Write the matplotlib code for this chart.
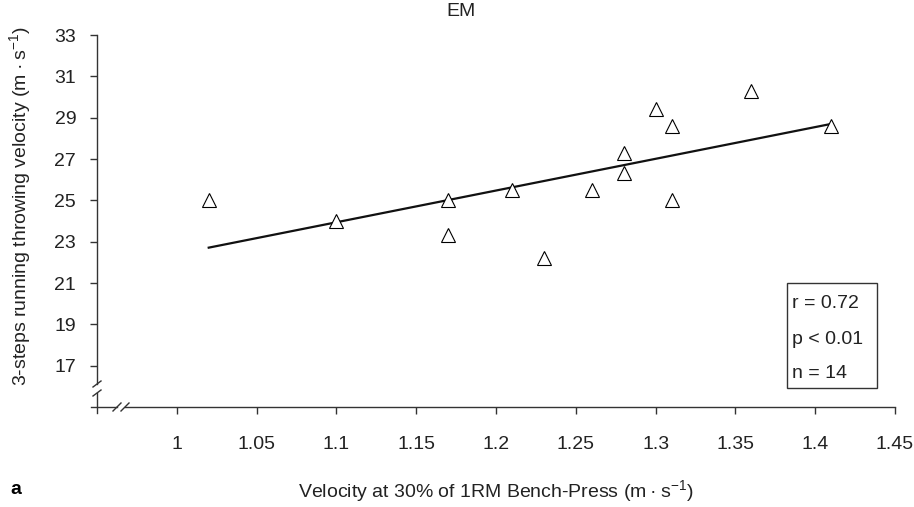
import numpy as np
import matplotlib
matplotlib.use("Agg")
import matplotlib.pyplot as plt
from matplotlib.patches import Rectangle

plt.rcParams['font.family'] = ['Liberation Sans', 'DejaVu Sans']
plt.rcParams['mathtext.fontset'] = 'custom'
plt.rcParams['mathtext.rm'] = 'Liberation Sans'
plt.rcParams['mathtext.it'] = 'Liberation Sans'
plt.rcParams['mathtext.default'] = 'regular'

# Bench-press velocity (m/s) vs throwing velocity (m/s), EM group
bench_velocity = [1.02, 1.10, 1.17, 1.17, 1.21, 1.23, 1.26, 1.28, 1.28, 1.30, 1.31, 1.31, 1.36, 1.41]
throw_velocity = [25.0, 24.0, 25.0, 23.3, 25.5, 22.2, 25.5, 27.3, 26.3, 29.4, 28.6, 25.0, 30.3, 28.6]
stats_lines = ['r = 0.72', 'p < 0.01', 'n = 14']
x_ticks = [1, 1.05, 1.1, 1.15, 1.2, 1.25, 1.3, 1.35, 1.4, 1.45]
x_ticklabels = ['1', '1.05', '1.1', '1.15', '1.2', '1.25', '1.3', '1.35', '1.4', '1.45']
y_ticks = [17, 19, 21, 23, 25, 27, 29, 31, 33]

FS = 14
TXT = '#222222'
UNIT = '(m\u2009·\u2009s$^{-1}$)'

W, H = 914, 507
fig = plt.figure(figsize=(W / 100, H / 100), dpi=100)
left, right, top, bottom = 97, 895, 35, 407
ax = fig.add_axes([left / W, 1 - bottom / H, (right - left) / W, (bottom - top) / H])
aw, ah = right - left, bottom - top

ax.set_xlim(0.95, 1.45)
ax.set_ylim(15, 33)

# points and regression line
ax.plot(bench_velocity, throw_velocity, linestyle='none', marker='^', ms=10,
        mfc='white', mec='black', mew=0.8, zorder=3)
xs = np.array([min(bench_velocity), max(bench_velocity)])
slope, icpt = np.polyfit(bench_velocity, throw_velocity, 1)
ax.plot(xs, slope * xs + icpt, color='#111111', lw=1.6, zorder=2)

# axes styling with broken axes
for s in ax.spines.values():
    s.set_visible(False)
axc = '#333333'
kw = dict(transform=ax.transAxes, clip_on=False, color=axc, lw=1.0)
# y axis
ax.plot([0, 0], [1, (bottom - 384) / ah], **kw)
ax.plot([0, 0], [(bottom - 393) / ah, -6 / ah], **kw)
for yp in (384, 393):
    yc = (bottom - yp) / ah
    ax.plot([-4 / aw, 4 / aw], [yc - 3 / ah, yc + 3 / ah], **kw)
# x axis
ax.plot([-6 / aw, (117 - left) / aw], [0, 0], **kw)
ax.plot([(125 - left) / aw, 1], [0, 0], **kw)
for xp in (117, 125):
    xc = (xp - left) / aw
    ax.plot([xc - 4 / aw, xc + 4 / aw], [-4 / ah, 4 / ah], **kw)

ax.set_xticks(x_ticks)
ax.set_xticklabels(x_ticklabels)
ax.set_yticks(y_ticks)
ax.tick_params(axis='x', direction='out', length=5, width=1.0, color=axc,
               pad=16, labelsize=FS, labelcolor=TXT)
ax.tick_params(axis='y', direction='out', length=5, width=1.0, color=axc,
               pad=10, labelsize=FS, labelcolor=TXT)

ax.set_ylabel('3-steps running throwing velocity ' + UNIT, fontsize=FS, color=TXT)
ax.yaxis.set_label_coords((33 - left) / aw, (bottom - 206) / ah)
ax.set_xlabel('Velocity at 30% of 1RM Bench-Press ' + UNIT, fontsize=FS, color=TXT)
ax.xaxis.set_label_coords(0.5, -(478 - bottom) / ah)

fig.text(461 / W, 1 - 12 / H, 'EM', ha='center', va='center', fontsize=FS, color=TXT)
fig.text(16 / W, 1 - 490 / H, 'a', ha='center', va='center', fontsize=FS, fontweight='bold')

# stats box
fig.patches.append(Rectangle((787 / W, 1 - 388 / H), 90 / W, 105 / H,
                             transform=fig.transFigure, fill=False, ec=axc, lw=1.0))
for txt, yp in zip(stats_lines, (303, 340, 374)):
    fig.text(792 / W, 1 - yp / H, txt, ha='left', va='center', fontsize=FS, color=TXT)

fig.savefig('out.png', dpi=100)
